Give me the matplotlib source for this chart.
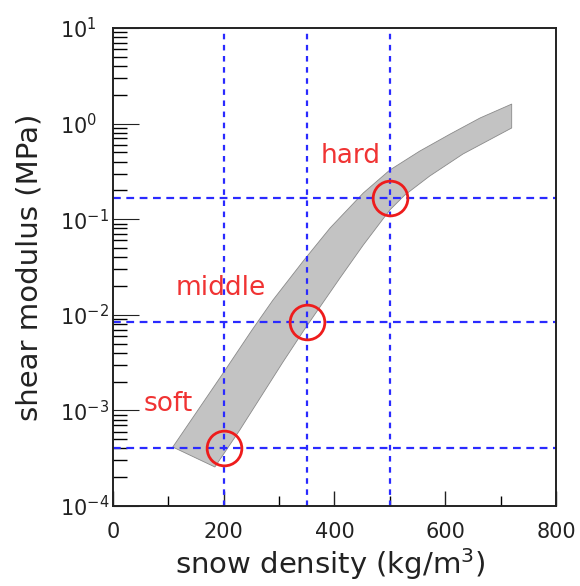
import matplotlib
matplotlib.use("Agg")
import matplotlib.pyplot as plt
import numpy as np

plt.rcParams['font.family'] = ['DejaVu Sans']
plt.rcParams['mathtext.fontset'] = 'dejavusans'

# band of shear modulus vs density (edges)
upper_x = [108, 199, 251, 289, 345, 392, 452, 500, 554, 609, 663, 720]
upper_y = [4.14e-4, 2.46e-3, 6.93e-3, 1.43e-2, 3.74e-2, 8.09e-2, 0.188, 0.327, 0.516, 0.778,
           1.146, 1.60]
lower_x = [184, 229, 307, 345, 410, 452, 500, 527, 572, 632, 720]
lower_y = [2.56e-4, 6.24e-4, 3.21e-3, 6.93e-3, 2.43e-2, 5.37e-2, 0.125, 0.179, 0.283, 0.481, 0.900]

# hardness classes
class_names = ['soft', 'middle', 'hard']
class_density = [200, 350, 500]
class_modulus = [4.05e-4, 8.4e-3, 0.165]
label_x = [99, 195, 430]
label_y = [9.86e-4, 1.61e-2, 0.387]

fig = plt.figure(figsize=(5.8, 5.86), dpi=100)
ax = fig.add_axes([0.1948, 0.1365, 0.7638, 0.8157])

poly_x = upper_x + lower_x[::-1]
poly_y = upper_y + lower_y[::-1]
ax.fill(poly_x, poly_y, facecolor='#c3c3c3', edgecolor='#8a8a8a', linewidth=0.6,
        joinstyle='round', zorder=1)

for d in class_density:
    ax.axvline(d, color='#2a2aff', lw=1.6, dashes=(2.5, 2.5), zorder=2)
for m in class_modulus:
    ax.axhline(m, color='#2a2aff', lw=1.6, dashes=(3.5, 2.5), zorder=2)

ax.plot(class_density, class_modulus, 'o', ms=25, mfc='none', mec='#ee1c1c', mew=2.0,
        zorder=3, linestyle='none')

for name, x, y in zip(class_names, label_x, label_y):
    ax.text(x, y, name, color='#f03333', fontsize=19, ha='center', va='baseline')

ax.set_yscale('log')
ax.set_xlim(0, 800)
ax.set_ylim(1e-4, 1e1)

ax.set_xticks([0, 200, 400, 600, 800])
ax.set_xticks([100, 300, 500, 700], minor=True)
ax.set_yticks([1e-4, 1e-3, 1e-2, 1e-1, 1e0, 1e1])
ax.set_yticklabels(['10$^{-4}$', '10$^{-3}$', '10$^{-2}$', '10$^{-1}$', '10$^{0}$', '10$^{1}$'])
ax.yaxis.set_minor_locator(matplotlib.ticker.LogLocator(base=10, subs=np.arange(2, 10)))
ax.yaxis.set_minor_formatter(matplotlib.ticker.NullFormatter())

ax.tick_params(axis='x', which='major', direction='in', length=11, width=1, pad=11.5,
               labelsize=15, colors='#222222')
ax.tick_params(axis='x', which='minor', direction='in', length=7, width=1)
ax.tick_params(axis='y', which='major', direction='in', length=19, width=0.8, pad=38,
               labelsize=15, colors='#222222')
ax.tick_params(axis='y', which='minor', direction='in', length=10, width=1)
for lab in ax.get_yticklabels():
    lab.set_ha('left')

for s in ax.spines.values():
    s.set_linewidth(1.4)
    s.set_color('#222222')

ax.set_xlabel('snow density (kg/m$^3$)', fontsize=21, color='#222222')
ax.set_ylabel('shear modulus (MPa)', fontsize=21, color='#222222')
ax.xaxis.set_label_coords(0.49, -0.083)
ax.yaxis.set_label_coords(-0.157, 0.5)

fig.savefig('out.png', dpi=100)
